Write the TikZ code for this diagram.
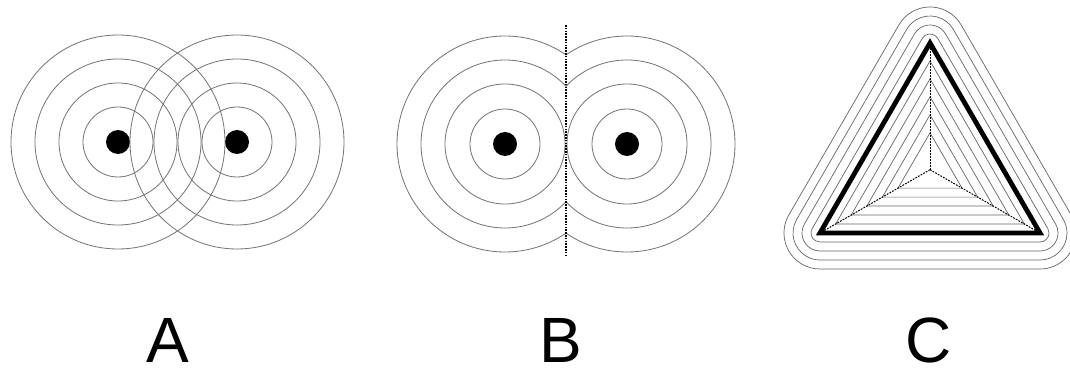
\documentclass[tikz,border=0pt]{standalone}
\usepackage{fontspec}
\setmainfont{Liberation Sans}
\usetikzlibrary{calc}
\begin{document}
\begin{tikzpicture}[x=1pt,y=1pt,
  ring/.style={draw=black!55,line width=0.8pt},
  src/.style={circle,fill=black,minimum size=24pt,inner sep=0pt},
  divider/.style={draw=black,line width=1.7pt,dash pattern=on 1.6pt off 1.2pt},
  bisect/.style={draw=black,line width=1pt,dash pattern=on 1.8pt off 1.2pt},
  contour/.style={draw=black!60,line width=0.7pt},
  edge/.style={draw=black,line width=4.8pt,line join=miter},
  lbl/.style={font=\fontsize{64}{64}\selectfont,anchor=base,inner sep=0pt}]
\useasboundingbox (0,0) rectangle (1070,375);
\fill[white] (0,0) rectangle (1070,375);

% ---------- Panel A ----------
\node[src] (a1) at (118,233) {};
\node[src] (a2) at (237,233) {};
\foreach \r in {35,59,83,107}{
  \draw[ring] (a1.center) circle[radius=\r pt];
  \draw[ring] (a2.center) circle[radius=\r pt];
}

% ---------- Panel B ----------
\coordinate (bt) at (566,350);
\coordinate (bb) at (566,120);
\node[src] (b1) at (505,231) {};
\node[src] (b2) at (627,231) {};
\begin{scope}
  \clip (380,100) rectangle (566,370);
  \foreach \r in {35,60,84,108}{\draw[ring] (b1.center) circle[radius=\r pt];}
\end{scope}
\begin{scope}
  \clip (566,100) rectangle (760,370);
  \foreach \r in {35,60,84,108}{\draw[ring] (b2.center) circle[radius=\r pt];}
\end{scope}
\draw[divider] (bt) -- (bb);

% ---------- Panel C ----------
\coordinate (A) at (930,332);
\coordinate (L) at (820,142);
\coordinate (R) at (1040,142);
\coordinate (O) at (930,205.3);
% outer rounded offsets
\foreach \d in {9,18,27,36}{
  \draw[contour] ($(A)+(150:\d pt)$) -- ($(L)+(150:\d pt)$)
    arc[start angle=150,end angle=270,radius=\d pt]
    -- ($(R)+(270:\d pt)$)
    arc[start angle=270,end angle=390,radius=\d pt]
    -- ($(A)+(30:\d pt)$)
    arc[start angle=30,end angle=150,radius=\d pt] -- cycle;
}
% inner nested triangles
\foreach \f in {0.858,0.717,0.575,0.433,0.291}{
  \draw[contour] ($(O)!\f!(A)$) -- ($(O)!\f!(L)$) -- ($(O)!\f!(R)$) -- cycle;
}
\draw[bisect] (O) -- (A);
\draw[bisect] (O) -- (L);
\draw[bisect] (O) -- (R);
\draw[edge] (A) -- (L) -- (R) -- cycle;

% ---------- Labels ----------
\node[lbl] (la) at (168,13) {A};
\node[lbl] (lb) at (561,13) {B};
\node[lbl] (lc) at (929,13) {C};
\end{tikzpicture}
\end{document}
